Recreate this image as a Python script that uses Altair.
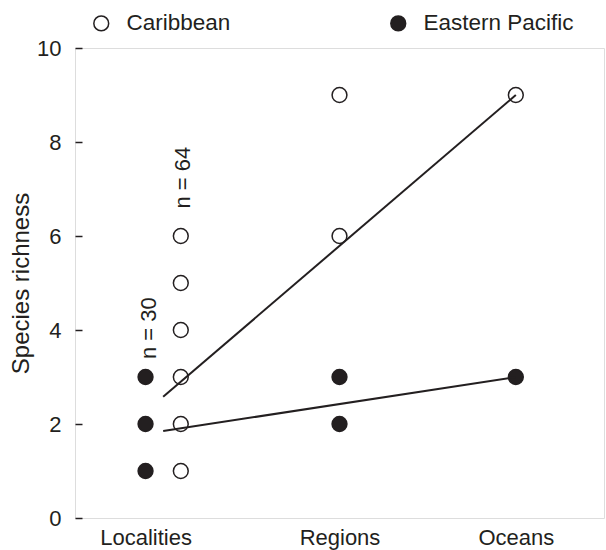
import altair as alt
import pandas as pd

# ---- data ----
categories = ["Localities", "Regions", "Oceans"]
category_x = [1.0, 2.0, 3.0]
series = ["Caribbean", "Eastern Pacific"]

carib_localities = [1, 2, 3, 4, 5, 6]
ep_localities = [1, 2, 3]
carib_regions = [6, 9]
ep_regions = [2, 3]
carib_oceans = [9]
ep_oceans = [3]

fit_x = [1.0, 3.0]
carib_fit = [2.58, 9.0]
ep_fit = [1.85, 3.0]

n_labels = ["n = 30", "n = 64"]
n_label_x = [0.92, 1.11]
n_label_y = [4.04, 7.24]

# dodge of the two series at "Localities"
dodge = {"Caribbean": 0.1, "Eastern Pacific": -0.1}
tick_x = [category_x[0] + dodge["Eastern Pacific"]] + category_x[1:]

rows = []
for cat, cx, carib, ep in zip(categories, category_x,
                              [carib_localities, carib_regions, carib_oceans],
                              [ep_localities, ep_regions, ep_oceans]):
    off = cat == "Localities"
    for v in carib:
        rows.append({"cat": cat, "x": cx + (dodge["Caribbean"] if off else 0), "y": v, "series": "Caribbean"})
    for v in ep:
        rows.append({"cat": cat, "x": cx + (dodge["Eastern Pacific"] if off else 0), "y": v, "series": "Eastern Pacific"})
points_df = pd.DataFrame(rows)

fit_rows = []
for s, ys in zip(series, [carib_fit, ep_fit]):
    for xv, yv in zip(fit_x, ys):
        fit_rows.append({"series": s, "x": xv, "y": yv})
fit_df = pd.DataFrame(fit_rows)

ann_df = pd.DataFrame({"text": n_labels, "x": n_label_x, "y": n_label_y})

FONT = "Liberation Sans"
INK = "#231f20"
FS = 22

label_expr = " : ".join(
    [f"abs(datum.value - {v}) < 0.01 ? '{c}'" for v, c in zip(tick_x, categories)]
) + " : ''"

x_enc = alt.X("x:Q", scale=alt.Scale(domain=[0.5, 3.5], nice=False, zero=False),
              axis=alt.Axis(values=tick_x, labelExpr=label_expr, ticks=False,
                            domain=False, grid=False, title=None, labelFontSize=FS,
                            labelFont=FONT, labelColor=INK, labelPadding=9))
y_enc = alt.Y("y:Q", scale=alt.Scale(domain=[0, 10], nice=False, zero=True),
              axis=alt.Axis(values=[0, 2, 4, 6, 8, 10], tickSize=7, offset=-7,
                            domain=False, grid=False, tickColor=INK, tickWidth=1.5,
                            labelFontSize=FS, labelFont=FONT, labelColor=INK,
                            labelPadding=14, title="Species richness",
                            titleFontSize=24, titleFont=FONT, titleColor=INK,
                            titleFontWeight="normal", titlePadding=3))

points = alt.Chart(points_df).mark_point(
    filled=True, size=220, stroke=INK, strokeWidth=1.5, opacity=1, shape="circle"
).encode(
    x=x_enc,
    y=y_enc,
    fill=alt.Fill("series:N",
                  scale=alt.Scale(domain=series, range=["white", INK]),
                  legend=alt.Legend(orient="none", legendX=15, legendY=-36,
                                    direction="horizontal", title=None,
                                    labelFontSize=22.5, labelFont=FONT, labelColor=INK,
                                    symbolSize=220, symbolStrokeColor=INK,
                                    symbolStrokeWidth=1.5, symbolType="circle",
                                    columnPadding=156, labelOffset=14)),
)

lines = alt.Chart(fit_df).mark_line(color=INK, strokeWidth=2).encode(
    x="x:Q", y="y:Q", detail="series:N"
)

ann = alt.Chart(ann_df).mark_text(angle=270, fontSize=FS, font=FONT, color=INK,
                                  align="center", baseline="middle").encode(
    x="x:Q", y="y:Q", text="text:N"
)

chart = alt.layer(points, lines, ann).properties(
    width=529, height=470,
    autosize=alt.AutoSizeParams(type="none"),
    padding={"left": 75, "top": 48, "right": 2, "bottom": 32},
).configure_view(stroke=INK, strokeWidth=1.5).configure(background="white")

chart.save("out.html", embed_options={"renderer": "svg", "actions": False})
